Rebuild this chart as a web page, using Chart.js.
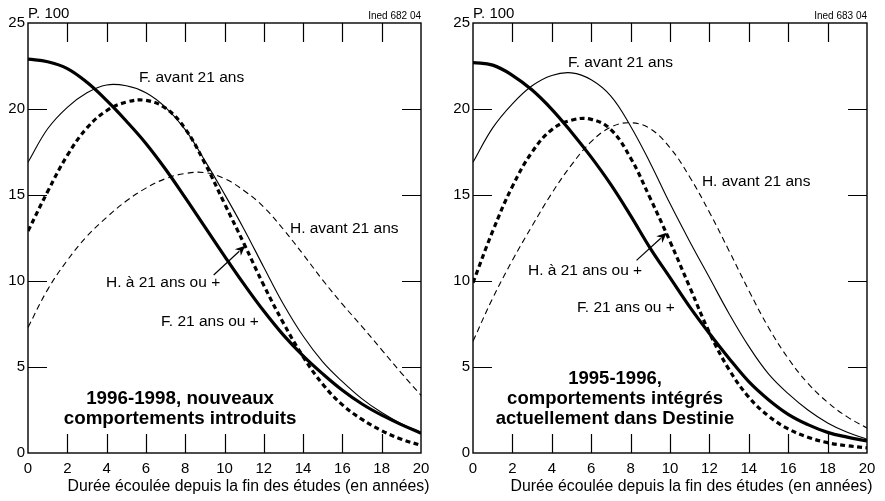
<!DOCTYPE html>
<html><head><meta charset="utf-8">
<script src="https://cdn.jsdelivr.net/npm/chart.js@4"></script>
<style>
html,body{margin:0;padding:0;background:#fff;}
#wrap{position:relative;width:885px;height:501px;overflow:hidden;}
.pane{position:absolute;top:0;width:442px;height:501px;}
</style></head><body>
<div id="wrap">
<div class="pane" style="left:0"><canvas id="c1" width="442" height="501"></canvas></div>
<div class="pane" style="left:443px"><canvas id="c2" width="442" height="501"></canvas></div>
</div>
<script>
// ---- data ----
const years = [0,1,2,3,4,5,6,7,8,9,10,11,12,13,14,15,16,17,18,19,20];
const xTickValues = [0,2,4,6,8,10,12,14,16,18,20];
const yTickValues = [0,5,10,15,20,25];
const seriesNames = ['F. avant 21 ans','H. avant 21 ans','H. à 21 ans ou +','F. 21 ans ou +'];

// Left panel: 1996-1998, nouveaux comportements introduits
const leftFAvant = [16.9,18.85,20.1,20.95,21.4,21.35,20.95,20.1,18.8,17.0,15.05,13.0,10.8,8.65,6.8,5.3,4.15,3.15,2.35,1.7,1.2];
const leftHAvant = [7.3,9.5,11.2,12.6,13.7,14.65,15.4,15.95,16.25,16.3,15.95,15.25,14.3,13.0,11.55,10.05,8.65,7.35,6.0,4.65,3.35];
const leftH21 = [12.9,15.2,17.3,18.9,19.9,20.4,20.5,20.05,18.85,16.85,14.5,12.15,9.75,7.55,5.6,4.0,2.8,1.95,1.3,0.8,0.45];
const leftF21 = [22.9,22.75,22.35,21.55,20.5,19.3,18.0,16.5,14.85,13.15,11.45,9.8,8.25,6.85,5.65,4.6,3.65,2.85,2.2,1.65,1.15];

// Right panel: 1995-1996, comportements intégrés actuellement dans Destinie
const rightFAvant = [16.9,18.9,20.3,21.35,21.95,22.1,21.7,20.75,19.0,16.85,14.5,12.3,10.2,8.1,6.2,4.6,3.45,2.5,1.75,1.2,0.8];
const rightHAvant = [6.5,9.0,11.2,13.2,15.1,16.75,18.1,18.95,19.2,18.85,17.75,16.05,14.0,11.75,9.45,7.3,5.5,4.05,2.95,2.1,1.45];
const rightH21 = [9.9,12.9,15.5,17.5,18.8,19.35,19.4,18.8,17.15,14.8,12.3,9.65,7.0,4.85,3.25,2.15,1.4,0.92,0.6,0.42,0.3];
const rightF21 = [22.7,22.55,21.96,21.1,19.98,18.65,17.2,15.6,13.8,11.9,10.2,8.5,6.95,5.5,4.15,3.1,2.25,1.65,1.2,0.92,0.7];

// Annotation texts
const leftTitleLines = ['1996-1998, nouveaux','comportements introduits'];
const rightTitleLines = ['1995-1996,','comportements intégrés','actuellement dans Destinie'];
const xAxisTitle = 'Durée écoulée depuis la fin des études (en années)';
const yUnit = 'P. 100';

const FONT = "'Liberation Sans', Arial, Helvetica, sans-serif";

function makeDatasets(fA, hA, h21, f21){
  return [
    {label: seriesNames[0], data: fA, borderColor:'#000', borderWidth:1.1},
    {label: seriesNames[1], data: hA, borderColor:'#000', borderWidth:1.1, borderDash:[6,4]},
    {label: seriesNames[2], data: h21, borderColor:'#000', borderWidth:3.2, borderDash:[5,3.5]},
    {label: seriesNames[3], data: f21, borderColor:'#000', borderWidth:3.2}
  ].map(d => Object.assign(d, {pointRadius:0, fill:false, tension:0.4}));
}

function decorPlugin(cfg){
  return {
    id:'decor',
    afterDraw(chart){
      const ctx = chart.ctx, ca = chart.chartArea;
      const xs = chart.scales.x, ys = chart.scales.y;
      ctx.save();
      // frame
      ctx.strokeStyle = '#000';
      ctx.lineWidth = 1.4;
      ctx.strokeRect(ca.left, ca.top, ca.right - ca.left, ca.bottom - ca.top);
      // inward ticks
      ctx.lineWidth = 1.2;
      const TL = 19;
      ctx.beginPath();
      xTickValues.forEach(v => {
        if (v === 0 || v === 20) return;
        const px = Math.round(xs.getPixelForValue(v)) + 0.5;
        ctx.moveTo(px, ca.top); ctx.lineTo(px, ca.top + TL);
        ctx.moveTo(px, ca.bottom); ctx.lineTo(px, ca.bottom - TL);
      });
      yTickValues.forEach(v => {
        if (v === 0 || v === 25) return;
        const py = Math.round(ys.getPixelForValue(v)) + 0.5;
        ctx.moveTo(ca.left, py); ctx.lineTo(ca.left + TL, py);
        ctx.moveTo(ca.right, py); ctx.lineTo(ca.right - TL, py);
      });
      ctx.stroke();
      // top texts
      ctx.fillStyle = '#000';
      ctx.font = '15px ' + FONT;
      ctx.textAlign = 'left'; ctx.textBaseline = 'alphabetic';
      ctx.fillText(yUnit, ca.left, ca.top - 5);
      ctx.font = '10px ' + FONT;
      ctx.textAlign = 'right';
      ctx.fillText(cfg.ined, ca.right, ca.top - 4);
      // x axis title
      ctx.font = '15.8px ' + FONT;
      ctx.textAlign = 'center'; ctx.textBaseline = 'middle';
      ctx.fillText(xAxisTitle, 248.5, 487);
      // series labels
      ctx.font = '15.5px ' + FONT;
      ctx.textAlign = 'left'; ctx.textBaseline = 'middle';
      cfg.labels.forEach(l => {
        ctx.fillText(l.text, xs.getPixelForValue(l.x), ys.getPixelForValue(l.y));
      });
      // bold panel title
      ctx.font = 'bold ' + cfg.titleSize + 'px ' + FONT;
      ctx.textAlign = 'center';
      cfg.titleLines.forEach((t, i) => {
        ctx.fillText(t, xs.getPixelForValue(cfg.titleX), ys.getPixelForValue(cfg.titleY[i]));
      });
      // arrow
      const a = cfg.arrow;
      const x0 = xs.getPixelForValue(a.from[0]), y0 = ys.getPixelForValue(a.from[1]);
      const x1 = xs.getPixelForValue(a.to[0]), y1 = ys.getPixelForValue(a.to[1]);
      const ang = Math.atan2(y1 - y0, x1 - x0);
      const hl = 10, hw = 4.5;
      ctx.lineWidth = 1.2;
      ctx.beginPath();
      ctx.moveTo(x0, y0);
      ctx.lineTo(x1 - Math.cos(ang) * hl * 0.8, y1 - Math.sin(ang) * hl * 0.8);
      ctx.stroke();
      ctx.beginPath();
      ctx.moveTo(x1, y1);
      ctx.lineTo(x1 - Math.cos(ang) * hl - Math.sin(ang) * hw, y1 - Math.sin(ang) * hl + Math.cos(ang) * hw);
      ctx.lineTo(x1 - Math.cos(ang) * hl * 0.7, y1 - Math.sin(ang) * hl * 0.7);
      ctx.lineTo(x1 - Math.cos(ang) * hl + Math.sin(ang) * hw, y1 - Math.sin(ang) * hl - Math.cos(ang) * hw);
      ctx.closePath();
      ctx.fill();
      ctx.restore();
    }
  };
}

function makeChart(id, datasets, cfg){
  return new Chart(document.getElementById(id), {
    type:'line',
    data:{ labels: years, datasets },
    options:{
      responsive:false,
      animation:false,
      events:[],
      layout:{ padding:{ top:23, right:cfg.padRight, left:0, bottom:0 } },
      plugins:{ legend:{display:false}, tooltip:{enabled:false}, title:{display:false} },
      scales:{
        x:{
          type:'linear', min:0, max:20,
          afterBuildTicks: s => { s.ticks = xTickValues.map(v => ({value:v})); },
          ticks:{ color:'#000', font:{family:FONT, size:15}, padding:7, maxRotation:0, autoSkip:false },
          grid:{ display:false, drawTicks:false, tickLength:0 },
          border:{ display:false },
          afterFit: s => { s.height = 48; }
        },
        y:{
          type:'linear', min:0, max:25,
          afterBuildTicks: s => { s.ticks = yTickValues.map(v => ({value:v})); },
          ticks:{ color:'#000', font:{family:FONT, size:15}, padding:3 },
          grid:{ display:false, drawTicks:false, tickLength:0 },
          border:{ display:false },
          afterFit: s => { s.width = cfg.yWidth; }
        }
      }
    },
    plugins:[decorPlugin(cfg)]
  });
}

makeChart('c1', makeDatasets(leftFAvant, leftHAvant, leftH21, leftF21), {
  padRight:21, yWidth:28, ined:'Ined 682 04', titleSize:18.8,
  labels:[
    {text:seriesNames[0], x:5.65, y:21.8},
    {text:seriesNames[1], x:13.33, y:13.05},
    {text:seriesNames[2], x:3.97, y:9.89},
    {text:seriesNames[3], x:6.77, y:7.66}
  ],
  titleLines:leftTitleLines, titleX:7.74, titleY:[3.16, 2.0],
  arrow:{from:[9.45, 10.35], to:[11.05, 12.05]}
});

makeChart('c2', makeDatasets(rightFAvant, rightHAvant, rightH21, rightF21), {
  padRight:18, yWidth:30, ined:'Ined 683 04', titleSize:18.5,
  labels:[
    {text:seriesNames[0], x:4.82, y:22.68},
    {text:seriesNames[1], x:11.62, y:15.75},
    {text:seriesNames[2], x:2.79, y:10.61},
    {text:seriesNames[3], x:5.28, y:8.44}
  ],
  titleLines:rightTitleLines, titleX:7.21, titleY:[4.32, 3.16, 2.0],
  arrow:{from:[8.3, 11.2], to:[9.83, 12.8]}
});
</script>
</body></html>
